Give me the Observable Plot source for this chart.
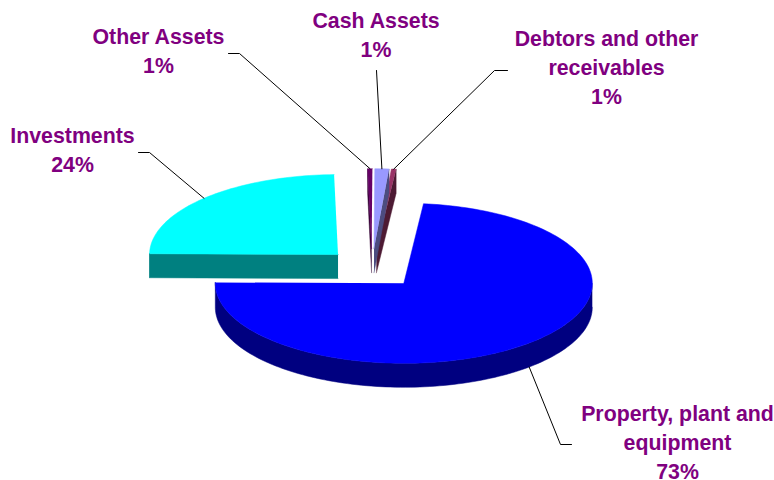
<!DOCTYPE html>
<html>
<head>
<meta charset="utf-8">
<script src="https://cdn.jsdelivr.net/npm/d3@7"></script>
<script src="https://cdn.jsdelivr.net/npm/@observablehq/plot@0.6"></script>
<style>html,body{margin:0;padding:0;background:#fff}svg{display:block}</style>
</head>
<body>
<div id="chart"></div>
<script>
// Data: slice order clockwise, starting just right of 12 o'clock
const categories = ["Property, plant and equipment", "Investments", "Other Assets", "Cash Assets", "Debtors and other receivables"];
const shares = [73.5, 24.5, 0.4, 1.2, 0.4];
const percentLabels = ["73%", "24%", "1%", "1%", "1%"];
const labelLines = [["Property, plant and", "equipment"], ["Investments"], ["Other Assets"], ["Cash Assets"], ["Debtors and other", "receivables"]];

// Styles
const topColors = ["#0000ff", "#00ffff", "#660066", "#9999ff", "#993366"];
const wallColors = ["#000080", "#008080", "#330033", "#4c4c80", "#4d1a33"];
const textColor = "#800080";

// Pie layout: a tilted, exploded 3D pie
const layout = {cx: 371.5, cy: 268, rx: 188.5, ry: 80, depth: 24, explodeX: 47.8, explodeY: 19.8, startDeg: 6};
const labelAnchors = [[677, 400], [72, 122], [158, 23], [375.5, 7], [606, 25]];
const leaderKnees = [[[560, 444], [571, 444]], [[149, 152], [138, 152]], [[239, 53], [228, 53]], [[376, 70]], [[494, 70], [507, 70]]];
const leaderDrawOrder = [1, 2, 4, 3, 0];

const rad = (d) => d * Math.PI / 180;
const total = d3.sum(shares);
let acc = layout.startDeg;
const slices = shares.map((v, i) => {
  const a0 = acc, a1 = acc + v / total * 360;
  acc = a1;
  const mid = rad((a0 + a1) / 2);
  return {i, a0, a1,
    cx: layout.cx + layout.explodeX * Math.sin(mid),
    cy: layout.cy - layout.explodeY * Math.cos(mid)};
});
const rim = (s, deg, dz = 0) => ({
  x: s.cx + layout.rx * Math.sin(rad(deg)),
  y: s.cy - layout.ry * Math.cos(rad(deg)) + dz
});
const arc = (s, a0, a1, dz = 0) => {
  const n = Math.max(2, Math.ceil(Math.abs(a1 - a0) / 1.5));
  return d3.range(n + 1).map((k) => rim(s, a0 + (a1 - a0) * k / n, dz));
};
const apex = (s, dz = 0) => ({x: s.cx, y: s.cy + dz});
const topFace = (s) => [apex(s), ...arc(s, s.a0, s.a1)];
const cutFace = (s, deg) => [apex(s), rim(s, deg), rim(s, deg, layout.depth), apex(s, layout.depth)];
const frontRim = (s) => {
  // the outer wall shows only on the near half of the ellipse
  const lo = Math.max(s.a0, 90), hi = Math.min(s.a1, 270 + 1.1);
  if (hi <= lo) return null;
  return [...arc(s, lo, hi), ...arc(s, hi, lo, layout.depth)];
};

const polygon = (pts, fill) => Plot.line(pts, {x: "x", y: "y", fill, stroke: fill, strokeWidth: 0.5, curve: "linear"});

const marks = [];
const draw = [1, 2, 4, 3, 0];
for (const i of draw) {
  const s = slices[i];
  const wall = wallColors[i];
  if (i === 1) marks.push(polygon(cutFace(s, s.a0), wall));
  if (i === 2) marks.push(polygon(cutFace(s, s.a0), wall));
  if (i === 3 || i === 4) marks.push(polygon(cutFace(s, s.a1), wall));
  const fr = frontRim(s);
  if (fr) marks.push(polygon(fr, wall));
  marks.push(polygon(topFace(s), topColors[i]));
}

// Leaders start on the rim of each slice's mid-angle; the big slice's sits on its lower edge
for (const i of leaderDrawOrder) {
  const s = slices[i];
  const mid = (s.a0 + s.a1) / 2;
  const start = rim(s, mid, i === 0 ? layout.depth : 0);
  const pts = [start, ...leaderKnees[i].map(([x, y]) => ({x, y}))];
  marks.push(Plot.line(pts, {x: "x", y: "y", stroke: "#000", strokeWidth: 1, curve: "linear"}));
}

const labelRows = categories.map((c, i) => ({
  x: labelAnchors[i][0], y: labelAnchors[i][1],
  text: [...labelLines[i], percentLabels[i]].join("\n")
}));
marks.push(Plot.text(labelRows, {
  x: "x", y: "y", text: "text", fill: textColor,
  fontFamily: "'Liberation Sans', Arial, sans-serif", fontWeight: "bold", fontSize: 21.33,
  lineHeight: 1.36, lineAnchor: "top", textAnchor: "middle"
}));

const plot = Plot.plot({
  width: 774, height: 480,
  marginTop: 0, marginRight: 0, marginBottom: 0, marginLeft: 0,
  x: {domain: [0, 774], range: [0, 774], axis: null},
  y: {domain: [0, 480], range: [0, 480], axis: null},
  style: {background: "#fff"},
  marks
});
document.getElementById("chart").append(plot);
</script>
</body>
</html>
